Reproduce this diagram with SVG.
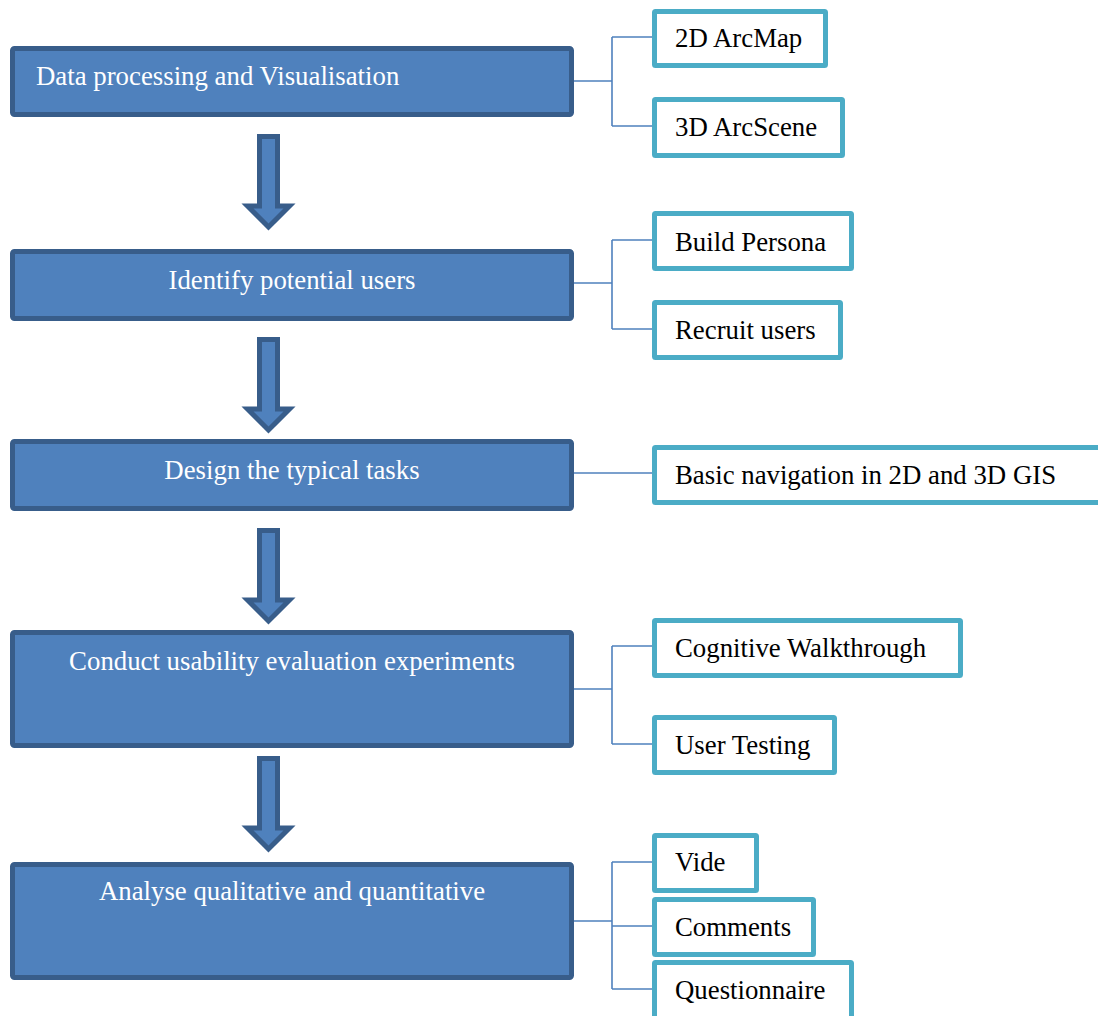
<svg xmlns="http://www.w3.org/2000/svg" width="1098" height="1016" viewBox="0 0 1098 1016">
<style>
.main{fill:#4f81bd;stroke:#385d8a;stroke-width:5}
.sub{fill:#ffffff;stroke:#4bacc6;stroke-width:5}
.arrow{fill:#4f81bd;stroke:#385d8a;stroke-width:5;stroke-linejoin:miter}
.conn{fill:none;stroke:#4f81bd;stroke-width:1.6}
text{font-family:"Liberation Serif","Times New Roman",serif;font-size:26.8px}
.wt{fill:#ffffff}
.bt{fill:#000000}
</style>
<defs>
<path id="arr" d="M-9,2.5 L9,2.5 L9,72 L21,72 L0,93 L-21,72 L-9,72 Z"/>
</defs>
<rect width="1098" height="1016" fill="#ffffff"/>
<g id="connectors">
<path class="conn" d="M574,81 H612 M612,37 V126 M612,37 H653 M612,126 H653"/>
<path class="conn" d="M574,283 H612 M612,240 V329 M612,240 H653 M612,329 H653"/>
<path class="conn" d="M574,473 H653"/>
<path class="conn" d="M574,689 H612 M612,646 V744 M612,646 H653 M612,744 H653"/>
<path class="conn" d="M574,921 H612 M612,862 V989 M612,862 H653 M612,926 H653 M612,989 H653"/>
</g>
<g id="arrows">
<use href="#arr" class="arrow" transform="translate(268.5,134)"/>
<use href="#arr" class="arrow" transform="translate(268.5,337)"/>
<use href="#arr" class="arrow" transform="translate(268.5,528)"/>
<use href="#arr" class="arrow" transform="translate(268.5,756)"/>
</g>
<g id="step1"><rect class="main" x="12.5" y="48.5" width="559" height="66" rx="2"/><text class="wt" x="36" y="85">Data processing and Visualisation</text></g>
<g id="step2"><rect class="main" x="12.5" y="251.5" width="559" height="67" rx="2"/><text class="wt" x="292" y="289" text-anchor="middle">Identify potential users</text></g>
<g id="step3"><rect class="main" x="12.5" y="441.5" width="559" height="67" rx="2"/><text class="wt" x="292" y="479" text-anchor="middle">Design the typical tasks</text></g>
<g id="step4"><rect class="main" x="12.5" y="632.5" width="559" height="113" rx="2"/><text class="wt" x="292" y="670" text-anchor="middle">Conduct usability evaluation experiments</text></g>
<g id="step5"><rect class="main" x="12.5" y="864.5" width="559" height="113" rx="2"/><text class="wt" x="292" y="900" text-anchor="middle">Analyse qualitative and quantitative</text></g>
<g id="arcmap"><rect class="sub" x="654.5" y="11.5" width="171" height="54" rx="1"/><text class="bt" x="675" y="47">2D ArcMap</text></g>
<g id="arcscene"><rect class="sub" x="654.5" y="99.5" width="188" height="56" rx="1"/><text class="bt" x="675" y="136">3D ArcScene</text></g>
<g id="persona"><rect class="sub" x="654.5" y="213.5" width="197" height="55" rx="1"/><text class="bt" x="675" y="251">Build Persona</text></g>
<g id="recruit"><rect class="sub" x="654.5" y="302.5" width="186" height="55" rx="1"/><text class="bt" x="675" y="339">Recruit users</text></g>
<g id="navigation"><rect class="sub" x="654.5" y="447.5" width="460" height="55" rx="1"/><text class="bt" x="675" y="484">Basic navigation in 2D and 3D GIS</text></g>
<g id="walkthrough"><rect class="sub" x="654.5" y="620.5" width="306" height="55" rx="1"/><text class="bt" x="675" y="657">Cognitive Walkthrough</text></g>
<g id="testing"><rect class="sub" x="654.5" y="717.5" width="180" height="55" rx="1"/><text class="bt" x="675" y="754">User Testing</text></g>
<g id="vide"><rect class="sub" x="654.5" y="835.5" width="102" height="55" rx="1"/><text class="bt" x="675" y="871">Vide</text></g>
<g id="comments"><rect class="sub" x="654.5" y="899.5" width="159" height="55" rx="1"/><text class="bt" x="675" y="936">Comments</text></g>
<g id="questionnaire"><rect class="sub" x="654.5" y="962.5" width="197" height="60" rx="1"/><text class="bt" x="675" y="999">Questionnaire</text></g>
</svg>
